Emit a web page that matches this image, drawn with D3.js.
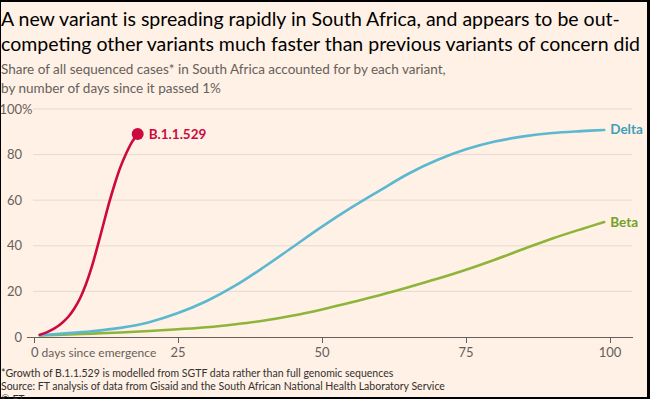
<!DOCTYPE html>
<html><head><meta charset="utf-8">
<script src="https://cdn.jsdelivr.net/npm/d3@7"></script>
<style>
html,body{margin:0;padding:0;background:#000;}
svg{display:block;}
</style></head>
<body>
<script>
// ---- data ----
const redDays   = [1,2,3,4,5,6,7,8,9,10,11,12,13,14,15,16,17,18];
const redVals   = [1,1.8,3,4.5,6.5,9,12.5,17,23,30.5,39.5,49,58.5,67,74.5,80.5,85.5,89];
const deltaDays = [1,5,10,15,20,25,30,35,40,45,50,55,60,65,70,75,80,85,90,95,99];
const deltaVals = [0.8,1.5,2.5,4,6.5,10.5,15.8,22.6,30.8,39.6,48.4,56.6,64.2,71.6,77.6,82.3,85.7,88,89.5,90.3,90.8];
const betaDays  = [1,5,10,15,20,25,30,35,40,45,50,55,60,65,70,75,80,85,90,95,99];
const betaVals  = [0.7,1.0,1.5,2.0,2.6,3.4,4.3,5.6,7.2,9.4,12.1,15.1,18.3,21.8,25.5,29.5,33.9,38.6,43.2,47.3,50.4];
const xTicks = [0,25,50,75,100];
const yTicks = [0,20,40,60,80,100];
const seriesNames = ["B.1.1.529","Delta","Beta"];
const titleLines = ["A new variant is spreading rapidly in South Africa, and appears to be out-",
                    "competing other variants much faster than previous variants of concern did"];
const subtitleLines = ["Share of all sequenced cases* in South Africa accounted for by each variant,",
                       "by number of days since it passed 1%"];
const footLines = ["*Growth of B.1.1.529 is modelled from SGTF data rather than full genomic sequences",
                   "Source: FT analysis of data from Gisaid and the South African National Health Laboratory Service",
                   "© FT"];

const W = 650, H = 399;
const font = "Lato, 'Open Sans', sans-serif";
const svg = d3.select("body").append("svg").attr("width",W).attr("height",H);
svg.append("rect").attr("x",1).attr("y",2).attr("width",646).attr("height",395).attr("fill","#FFF1E5");

const x = d3.scaleLinear().domain([0,100]).range([34,610]);
const y = d3.scaleLinear().domain([0,100]).range([337,109]);

// titles
const t = svg.append("g").attr("font-family",font);
titleLines.forEach((s,i)=>t.append("text").attr("x",1).attr("y",26+i*24.5).attr("font-size",19.5).attr("fill","#000").text(s));
subtitleLines.forEach((s,i)=>t.append("text").attr("x",1).attr("y",74+i*19).attr("font-size",13.5).attr("fill","#66605C").text(s));

// grid
const grid = svg.append("g");
yTicks.filter(d=>d>0).forEach(d=>{
  grid.append("line").attr("x1",33).attr("x2",632).attr("y1",y(d)).attr("y2",y(d))
    .attr("stroke","#E6D9CE").attr("stroke-width",1);
});
// y labels
const yl = svg.append("g").attr("font-family",font).attr("font-size",13).attr("fill","#66605C");
yTicks.forEach(d=>{
  yl.append("text").attr("x",22).attr("y",y(d)+4.5).attr("text-anchor","end").text(d);
});
yl.append("text").attr("x",22).attr("y",y(100)+4.5).text("%");

// x axis
const xa = svg.append("g").attr("transform","translate(0,337)");
xa.call(d3.axisBottom(x).tickValues(xTicks).tickSize(6).tickFormat(""));
xa.select(".domain").attr("d","M27,0.5H633").attr("stroke","#66605C");
xa.selectAll(".tick line").attr("stroke","#66605C");
const xl = svg.append("g").attr("font-family",font).attr("font-size",13).attr("fill","#66605C");
xTicks.forEach(d=>{
  if(d===0){
    const tx = xl.append("text").attr("x",x(0)-3).attr("y",357);
    tx.append("tspan").text("0");
    tx.append("tspan").attr("font-size",12).text(" days since emergence");
  } else {
    xl.append("text").attr("x",x(d)).attr("y",357).attr("text-anchor","middle").text(d);
  }
});

// lines
const line = d3.line().x(d=>x(d[0])).y(d=>y(d[1])).curve(d3.curveCatmullRom.alpha(0.5));
const colors = ["#CC0A3F","#5BB8D0","#8DB53A"];
const labColors = ["#CC0A3F","#3E9FBA","#72A028"];
const sets = [d3.zip(redDays,redVals), d3.zip(deltaDays,deltaVals), d3.zip(betaDays,betaVals)];
[2,1,0].forEach(i=>{
  svg.append("path").datum(sets[i]).attr("d",line).attr("fill","none")
    .attr("stroke",colors[i]).attr("stroke-width",2.6).attr("stroke-linecap","round");
});
const last = sets[0][sets[0].length-1];
svg.append("circle").attr("cx",x(last[0])).attr("cy",y(last[1])).attr("r",6).attr("fill",colors[0]);

const lab = svg.append("g").attr("font-family",font).attr("font-size",13.5).attr("font-weight","bold");
sets.forEach((s,i)=>{
  const p = s[s.length-1];
  lab.append("text").attr("x",x(p[0])+(i===0?11:6)).attr("y",y(p[1])+4.5).attr("fill",labColors[i]).text(seriesNames[i]);
});

// footnotes
const f = svg.append("g").attr("font-family",font).attr("font-size",10.5).attr("fill","#33302E");
footLines.forEach((s,i)=>f.append("text").attr("x",1).attr("y",377+i*13).text(s));
</script>
</body></html>
